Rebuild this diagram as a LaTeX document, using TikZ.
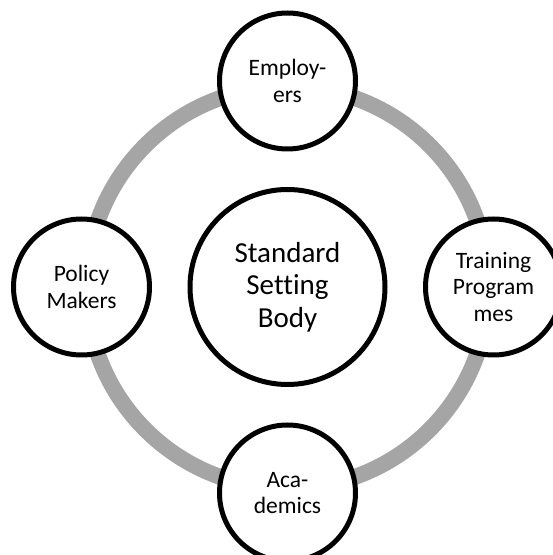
\documentclass[tikz,border=0pt]{standalone}
\usepackage{fontspec}
\setmainfont[Ligatures=NoCommon]{Carlito}
\usetikzlibrary{positioning}
\definecolor{ringgray}{RGB}{165,165,165}
\tikzset{
  hub/.style   = { draw, circle, line width=5pt, fill=white, inner sep=0pt,
    minimum size=195pt, align=center, font=\fontsize{29}{32.5}\selectfont },
  spoke/.style = { draw, circle, line width=5pt, fill=white, inner sep=0pt,
    minimum size=136pt, align=center, font=\fontsize{23.5}{26.5}\selectfont },
  ring/.style  = { draw=ringgray, line width=16pt }
}
\begin{document}
\begin{tikzpicture}[x=1pt,y=1pt,node distance=206pt,on grid]
      \useasboundingbox (0,0) rectangle (553,555);
      % ring behind the nodes
      \draw[ring] (287.5,267.5) circle (201);
      \node[hub] (hub) at (287.5,268) {Standard\\Setting\\Body};
      \node[spoke, above=of hub] (emp) {Employ-\\ers};
      \node[spoke, right=of hub] (trn) {Training\\Program\\mes};
      \node[spoke, below=of hub] (acad) {Aca-\\demics};
      \node[spoke, left=of hub] (pol) {Policy\\Makers};
    \end{tikzpicture}
\end{document}
